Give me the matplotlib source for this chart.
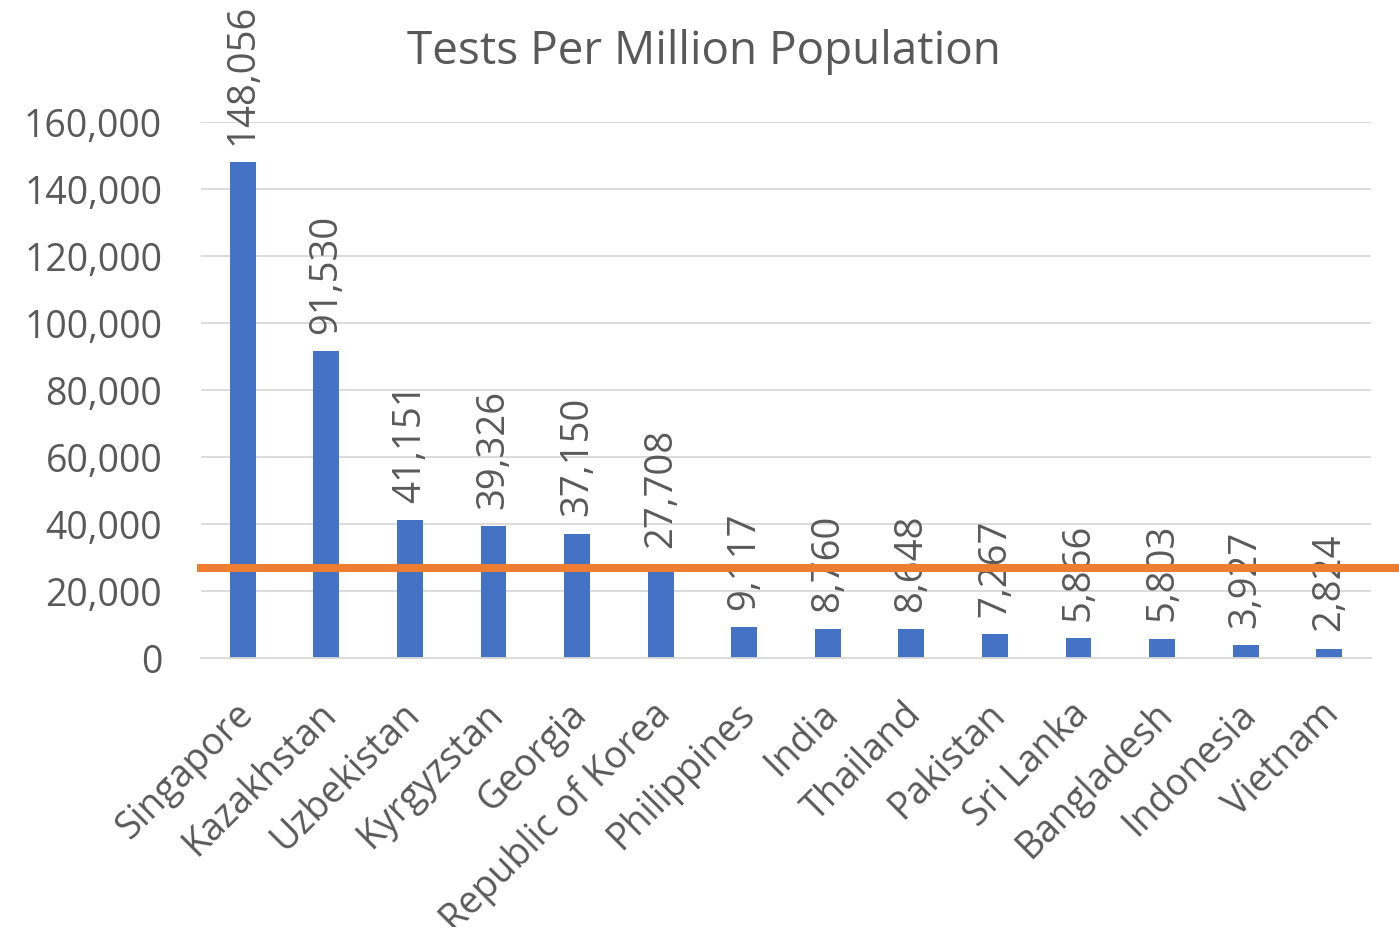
import matplotlib
matplotlib.use("Agg")
import matplotlib.pyplot as plt
from matplotlib.ticker import FuncFormatter
from matplotlib.transforms import ScaledTranslation

categories = ["Singapore", "Kazakhstan", "Uzbekistan", "Kyrgyzstan", "Georgia",
              "Republic of Korea", "Philippines", "India", "Thailand", "Pakistan",
              "Sri Lanka", "Bangladesh", "Indonesia", "Vietnam"]
values = [148056, 91530, 41151, 39326, 37150, 27708, 9117, 8760, 8648, 7267,
          5866, 5803, 3927, 2824]
reference_line = 26900
yticks = [0, 20000, 40000, 60000, 80000, 100000, 120000, 140000, 160000]

plt.rcParams['font.family'] = ['Open Sans', 'DejaVu Sans']
text_color = '#595959'

fig = plt.figure(figsize=(13.99, 9.28), dpi=100)
ax = fig.add_axes([0.1437, 0.2899, 0.8363, 0.5776])

x = list(range(len(categories)))
ax.bar(x, values, width=0.31, color='#4472C4', zorder=2)
for xi, v in zip(x, values):
    ax.annotate(f"{v:,}", (xi, v), xytext=(0, 13), textcoords='offset points',
                rotation=90, ha='center', va='bottom', fontsize=27.5,
                color=text_color, zorder=3)

ax.axhline(reference_line, xmin=0.0, xmax=1.03, color='#ED7D31', lw=5.8,
           clip_on=False, zorder=4)

ax.set_xlim(-0.5, len(categories) - 0.5)
ax.set_ylim(0, 160000)
ax.set_yticks(yticks)
ax.yaxis.set_major_formatter(FuncFormatter(lambda v, p: f"{int(v):,}"))
ax.grid(axis='y', color='#D9D9D9', lw=1.3, zorder=0)
ax.set_axisbelow(True)
for s in ['top', 'right', 'left']:
    ax.spines[s].set_visible(False)
ax.spines['bottom'].set_color('#D9D9D9')
ax.spines['bottom'].set_linewidth(1.3)
ax.tick_params(axis='both', length=0, labelsize=27, colors=text_color)
ax.tick_params(axis='x', pad=26)
ax.tick_params(axis='y', pad=28)
ax.set_xticks(x)
ax.set_xticklabels(categories, rotation=45, ha='right', rotation_mode='anchor')
offset = ScaledTranslation(-9 / 100, 0, fig.dpi_scale_trans)
for lbl in ax.get_xticklabels():
    lbl.set_transform(lbl.get_transform() + offset)

fig.text(0.503, 0.944, "Tests Per Million Population", ha='center', va='center',
         fontsize=33, color=text_color)

fig.savefig("out.png", dpi=100)
